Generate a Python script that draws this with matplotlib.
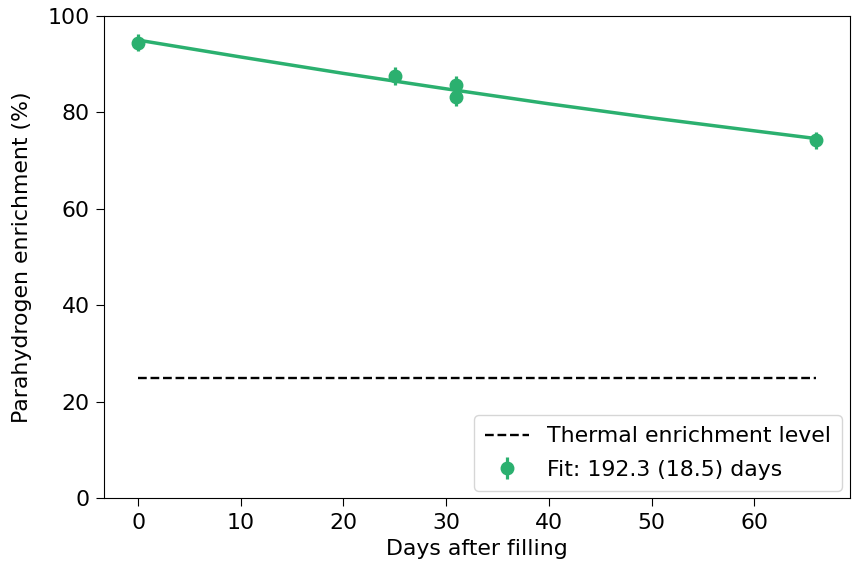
import numpy as np
import matplotlib
matplotlib.use("Agg")
import matplotlib.pyplot as plt

# measured enrichment
days = [0, 25, 31, 31, 66]
enrich = [94.5, 87.6, 85.8, 83.2, 74.2]
enrich_err = [1.8, 1.8, 1.8, 1.8, 1.8]

# fit curve
fit_days = [0, 10, 20, 30, 40, 50, 60, 66]
fit_vals = [95.0, 91.5, 88.1, 84.9, 81.8, 78.9, 76.2, 74.6]

thermal_days = [0, 66]
thermal_level = [25, 25]

green = '#2bb06f'

plt.rcParams['font.size'] = 15.8
plt.rcParams['xtick.major.size'] = 5.5
plt.rcParams['ytick.major.size'] = 5.5
plt.rcParams['xtick.major.pad'] = 5
plt.rcParams['ytick.major.pad'] = 5
fig, ax = plt.subplots(figsize=(8.54, 5.71), dpi=100)

ax.plot(thermal_days, thermal_level, '--', color='black', lw=1.7,
        label='Thermal enrichment level')
ax.plot(fit_days, fit_vals, '-', color=green, lw=2.5)
ax.errorbar(days, enrich, yerr=enrich_err, fmt='o', color=green,
            ms=9, elinewidth=2.3, label='Fit: 192.3 (18.5) days')

ax.set_ylim(0, 100)
ax.set_xlabel('Days after filling')
ax.set_ylabel('Parahydrogen enrichment (%)', labelpad=11)
ax.legend(loc='lower right', borderaxespad=0.36, labelspacing=0.6,
          borderpad=0.5)

fig.subplots_adjust(left=0.122, right=0.995, top=0.972, bottom=0.127)
fig.savefig('out.png')
